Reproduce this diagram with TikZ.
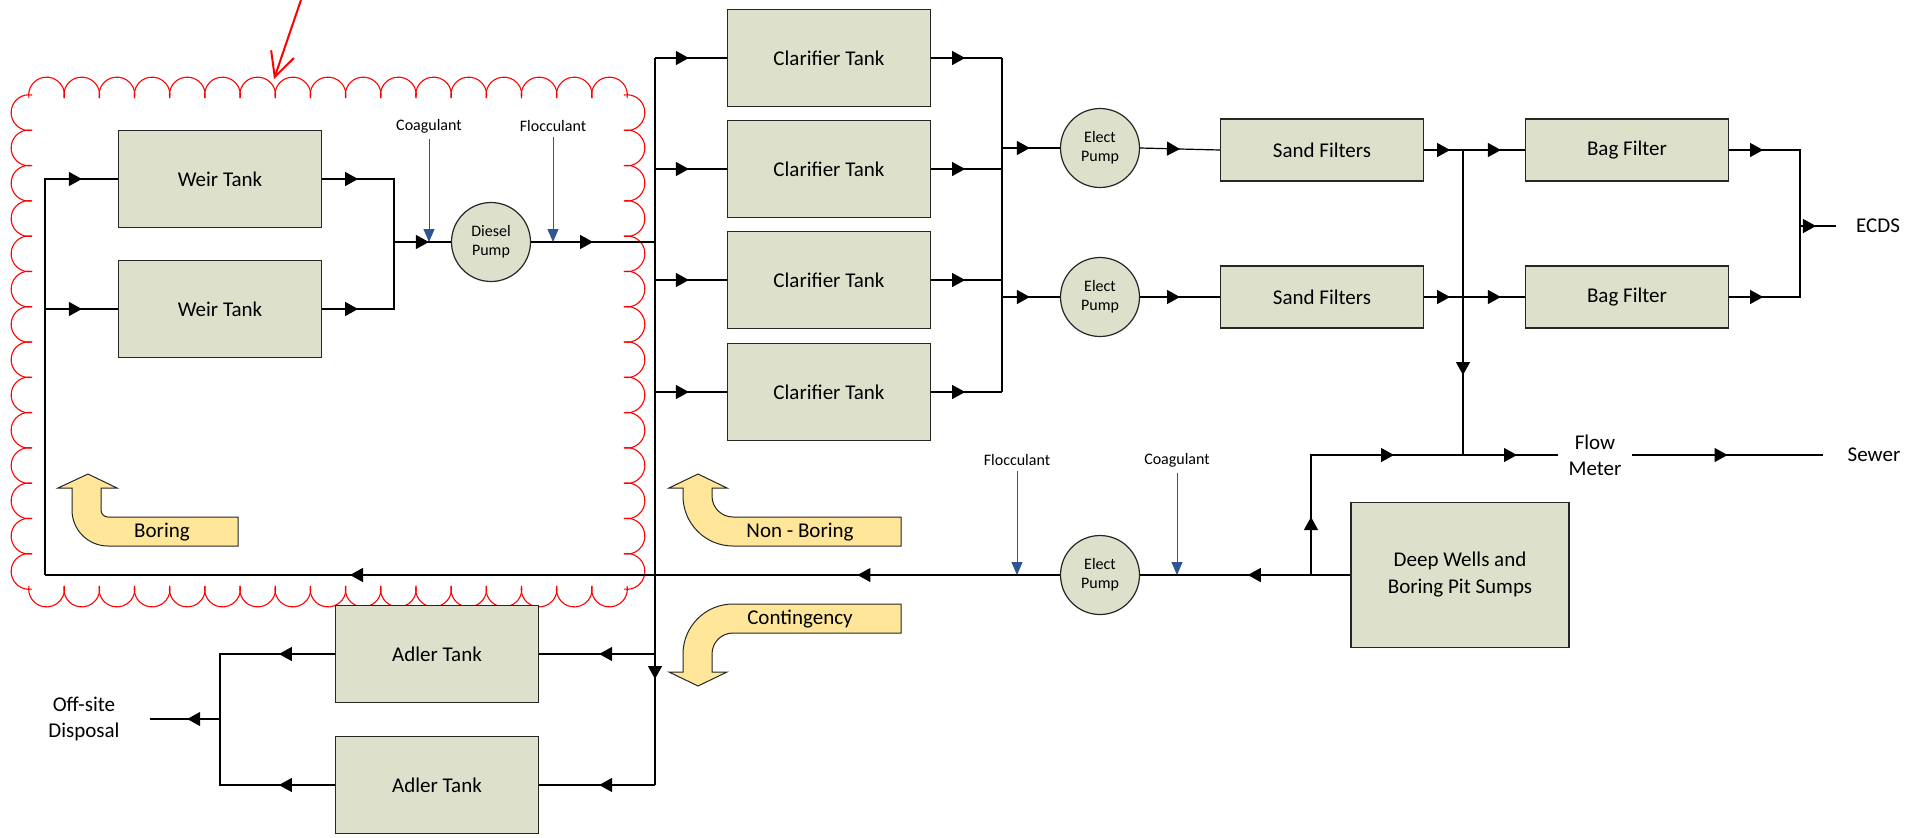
\documentclass[tikz,border=0pt]{standalone}
\usepackage{fontspec}
\setmainfont{Carlito}
\usepackage{tikz}
\usetikzlibrary{arrows.meta,decorations.markings}
\usepackage{xcolor}

\definecolor{tankfill}{RGB}{221,225,204}
\definecolor{calloutfill}{RGB}{255,230,153}
\definecolor{chemblue}{RGB}{47,85,151}

\begin{document}
\begin{tikzpicture}[x=0.5pt, y=0.5pt, line width=0.6pt,
    tank/.style={draw=black!85, fill=tankfill, minimum width=101.5pt, minimum height=48.5pt, inner sep=0pt, align=center, font=\fontsize{10.5}{13.5}\selectfont},
    filter/.style={tank, minimum height=31pt},
    pump/.style={circle, draw=black!85, fill=tankfill, minimum size=39.5pt, inner sep=0pt, align=center, font=\fontsize{8}{9.5}\selectfont},
    lbl/.style={align=center, font=\fontsize{10.5}{13}\selectfont},
    chemlbl/.style={inner sep=2.5pt, font=\fontsize{8}{9.5}\selectfont},
    flowarrow/.style={postaction={decorate, decoration={markings, mark=at position #1 with {\arrow{Triangle[length=6.5pt,width=7pt]}}}}},
    chem/.style={draw=chemblue, line width=0.5pt, -{Triangle[length=6.5pt,width=5.5pt]}},
    callout/.style={draw=black!85, fill=calloutfill, line width=0.5pt},
    cloudline/.style={draw=red, line width=0.55pt}]
        \useasboundingbox (0,0) rectangle (1923,-837);

        % Revision cloud round the boring set-up
        \foreach \i in {0,...,16} {
            \draw[cloudline] ({29+(\i+0.5)*35.18},-95) ++(190:17.9) arc[start angle=190, end angle=-10, radius=17.9];
            \draw[cloudline] ({29+(\i+0.5)*35.18},-589) ++(170:17.9) arc[start angle=170, end angle=370, radius=17.9];
        }
        \foreach \j in {0,...,13} {
            \draw[cloudline] (29,{-95-(\j+0.5)*35.29}) ++(80:17.9) arc[start angle=80, end angle=280, radius=17.9];
            \draw[cloudline] (627,{-95-(\j+0.5)*35.29}) ++(100:17.9) arc[start angle=100, end angle=-100, radius=17.9];
        }
        \draw[red, line width=1pt, -{Straight Barb[length=12pt,width=12pt]}] (301,0) -- (274,-79);

        % Boring: weir tanks and diesel pump
        \node[tank] (weir1) at (220,-179) {Weir Tank};
        \node[tank] (weir2) at (220,-309) {Weir Tank};
        \node[pump] (diesel) at (491,-242) {Diesel\\Pump};

        % Non-boring: clarifiers, pumps and filters
        \node[tank] (clar1) at (829,-58)  {Clarifier Tank};
        \node[tank] (clar2) at (829,-169) {Clarifier Tank};
        \node[tank] (clar3) at (829,-280) {Clarifier Tank};
        \node[tank] (clar4) at (829,-392) {Clarifier Tank};
        \node[pump] (ep1) at (1100,-148) {Elect\\Pump};
        \node[pump] (ep2) at (1100,-297) {Elect\\Pump};
        \node[filter] (sand1) at (1322,-150) {Sand Filters};
        \node[filter] (sand2) at (1322,-297) {Sand Filters};
        \node[filter] (bag1) at (1627,-150) {Bag Filter};
        \node[filter] (bag2) at (1627,-297) {Bag Filter};

        % Source, return pump and contingency tanks
        \node[tank, minimum width=109pt, minimum height=72.5pt] (deep) at (1460,-575) {Deep Wells and\\Boring Pit Sumps};
        \node[pump] (ep3) at (1100,-575) {Elect\\Pump};
        \node[tank] (adler1) at (437,-654) {Adler Tank};
        \node[tank] (adler2) at (437,-785) {Adler Tank};

        % End points
        \node[lbl, inner xsep=10pt] (ecds) at (1878,-226) {ECDS};
        \node[lbl, inner xsep=5pt] (fm) at (1595,-455) {Flow\\Meter};
        \node[lbl, inner xsep=12pt] (sewer) at (1874,-455) {Sewer};
        \node[lbl, inner xsep=15pt] (offsite) at (84,-719) {Off-site\\Disposal};

        % Chemical dosing
        \node[chemlbl] (coag1) at (429,-126) {Coagulant};
        \node[chemlbl] (floc1) at (553,-126) {Flocculant};
        \node[chemlbl] (floc2) at (1017,-460) {Flocculant};
        \node[chemlbl] (coag2) at (1177,-460) {Coagulant};

        % Junctions
        \coordinate (wj) at (394,-242);
        \coordinate (main) at (655,-242);
        \coordinate (ret) at (45,-575);
        \coordinate (cj) at (1002,-242);
        \coordinate (sj) at (1463,-150);
        \coordinate (bj) at (1800,-226);
        \coordinate (dj) at (1311,-575);
        \coordinate (oj) at (220,-719);

        % Boring loop
        \draw[flowarrow=18pt] (weir1.east) -| (wj);
        \draw[flowarrow=18pt] (weir2.east) -| (wj);
        \draw[flowarrow=-11pt] (wj) -- (diesel.west);
        \draw[flowarrow=0.5] (diesel.east) -- (main);
        \draw[flowarrow=0.5] (main |- ep3) -- (ret);
        \draw[flowarrow=-18pt] (ret) |- (weir1.west);
        \draw[flowarrow=-18pt] (ret |- weir2) -- (weir2.west);

        % Main header
        \draw[flowarrow=-53pt] (main |- clar1) -- (main |- adler2);

        % Clarifiers to pumps
        \foreach \c in {clar1,clar2,clar3,clar4} {
            \draw[flowarrow=-19pt] (main |- \c) -- (\c.west);
            \draw[flowarrow=17pt] (\c.east) -- (cj |- \c);
        }
        \draw (cj |- clar1) -- (cj |- clar4);
        \draw[flowarrow=-15pt] (cj |- ep1) -- (ep1.west);
        \draw[flowarrow=-15pt] (cj |- ep2) -- (ep2.west);

        % Filters
        \draw[flowarrow=0.5] (ep1.east) -- (sand1.west);
        \draw[flowarrow=0.5] (ep2.east) -- (sand2.west);
        \draw[flowarrow=13pt, flowarrow=-12pt] (sand1.east) -- (bag1.west);
        \draw[flowarrow=13pt, flowarrow=-12pt] (sand2.east) -- (bag2.west);
        \draw[flowarrow=-40pt] (sj) -- (sj |- fm);
        \draw[flowarrow=17pt] (bag1.east) -| (bj);
        \draw[flowarrow=17pt] (bag2.east) -| (bj);
        \draw[flowarrow=0.45] (bj) -- (ecds.west);

        % Deep wells
        \draw (deep.west) -- (dj);
        \draw[flowarrow=29pt, flowarrow=101.5pt, flowarrow=163pt] (dj) |- (fm.west);
        \draw[flowarrow=0.5] (fm.east) -- (sewer.west);
        \draw[flowarrow=0.37] (dj) -- (ep3.east);
        \draw[flowarrow=0.5] (ep3.west) -- (main |- ep3);

        % Contingency
        \draw[flowarrow=-30pt] (main |- adler1) -- (adler1.east);
        \draw[flowarrow=-30pt] (main |- adler2) -- (adler2.east);
        \draw[flowarrow=28pt] (adler1.west) -| (oj);
        \draw[flowarrow=28pt] (adler2.west) -| (oj);
        \draw[flowarrow=0.47] (oj) -- (offsite.east);

        % Dosing arrows
        \draw[chem] (coag1) -- (coag1 |- wj);
        \draw[chem] (floc1) -- (floc1 |- diesel);
        \draw[chem] (floc2) -- (floc2 |- ep3);
        \draw[chem] (coag2) -- (coag2 |- ep3);

        % Bent callout arrows
        \draw[callout] (238,-517) -- (108,-517) arc[start angle=270, end angle=180, radius=7]
            -- (101,-488) -- (117,-488) -- (88,-474) -- (58,-488) -- (72,-488) -- (72,-510)
            arc[start angle=180, end angle=270, radius=36] -- (238,-546) -- cycle;
        \draw[callout] (901,-517) -- (733,-517) arc[start angle=270, end angle=180, radius=21]
            -- (712,-488) -- (727,-488) -- (698,-474) -- (669,-488) -- (683,-488) -- (683,-496)
            arc[start angle=180, end angle=270, radius=50] -- (901,-546) -- cycle;
        \draw[callout] (901,-633) -- (733,-633) arc[start angle=90, end angle=180, radius=21]
            -- (712,-672) -- (727,-672) -- (698,-686) -- (669,-672) -- (683,-672) -- (683,-654)
            arc[start angle=180, end angle=90, radius=50] -- (901,-604) -- cycle;
        \node[lbl] (boring) at (162,-532) {Boring};
        \node[lbl] (nonboring) at (800,-532) {Non - Boring};
        \node[lbl] (contingency) at (800,-619) {Contingency};
    \end{tikzpicture}
\end{document}
